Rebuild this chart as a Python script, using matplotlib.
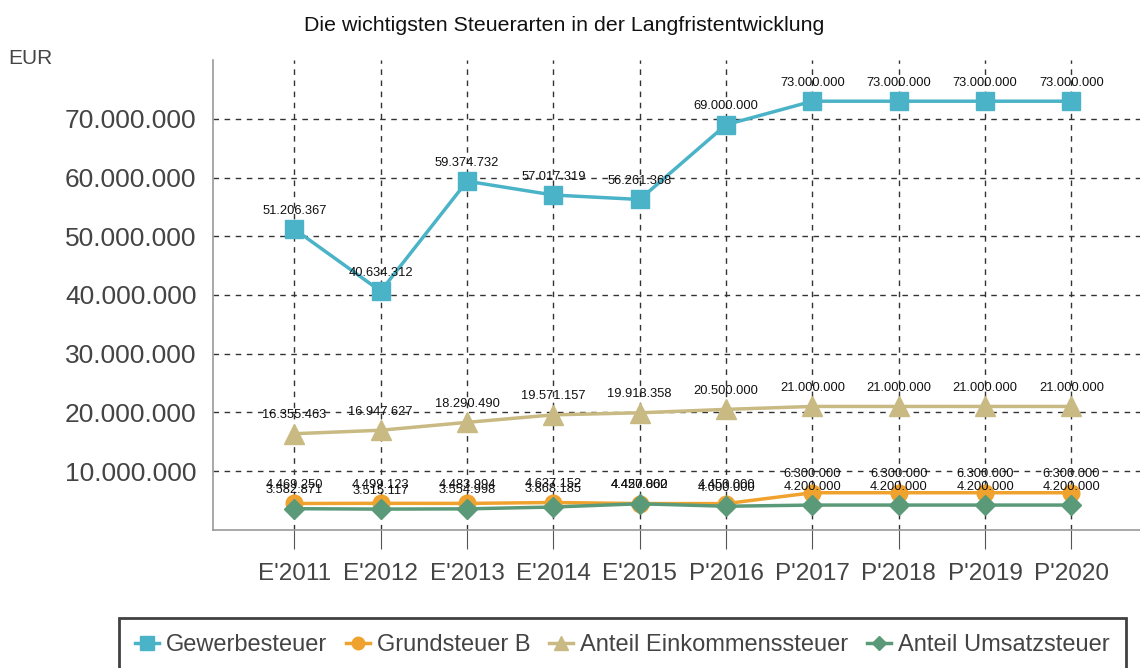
import matplotlib
matplotlib.use("Agg")
import matplotlib.pyplot as plt
from matplotlib.ticker import FixedLocator, FuncFormatter

plt.rcParams['font.family'] = ['Liberation Sans Narrow', 'Liberation Sans', 'DejaVu Sans']

categories = ["E'2011", "E'2012", "E'2013", "E'2014", "E'2015",
              "P'2016", "P'2017", "P'2018", "P'2019", "P'2020"]
gewerbesteuer = [51206367, 40634312, 59374732, 57017319, 56261368,
                 69000000, 73000000, 73000000, 73000000, 73000000]
grundsteuer_b = [4469250, 4499123, 4483994, 4637152, 4457000,
                 4450000, 6300000, 6300000, 6300000, 6300000]
einkommensteuer = [16355463, 16947627, 18290490, 19571157, 19918358,
                   20500000, 21000000, 21000000, 21000000, 21000000]
umsatzsteuer = [3582871, 3515117, 3554998, 3868185, 4420862,
                4000000, 4200000, 4200000, 4200000, 4200000]
y_ticks = [10000000, 20000000, 30000000, 40000000, 50000000, 60000000, 70000000]

series = [
    ("Gewerbesteuer", gewerbesteuer, "#4bb3c8", "s", 13),
    ("Grundsteuer B", grundsteuer_b, "#f0a22e", "o", 12),
    ("Anteil Einkommenssteuer", einkommensteuer, "#c9b982", "^", 14),
    ("Anteil Umsatzsteuer", umsatzsteuer, "#5a9a78", "D", 10),
]

def de(v):
    return f"{int(round(v)):,}".replace(",", ".")

fig = plt.figure(figsize=(11.4, 6.68), dpi=100)
ax = fig.add_axes([0.187, 0.207, 0.818, 0.703])
x = list(range(len(categories)))

for name, vals, col, mk, ms in series:
    ax.plot(x, vals, color=col, lw=2.5, marker=mk, ms=ms, label=name, zorder=3)
    for xi, v in zip(x, vals):
        ax.annotate(de(v), (xi, v), xytext=(0, 9), textcoords="offset points",
                    ha="center", va="bottom", fontsize=9.3, color="#111111", zorder=4)

ax.set_xlim(-0.94, 9.86)
ax.set_ylim(0, 80000000)
ax.yaxis.set_major_locator(FixedLocator(y_ticks))
ax.yaxis.set_major_formatter(FuncFormatter(lambda v, p: de(v)))
ax.set_xticks(x)
ax.set_xticklabels(categories)
ax.grid(True, ls=(0, (4, 4)), color="#333333", lw=1)
ax.set_axisbelow(True)
for s in ["top", "right"]:
    ax.spines[s].set_visible(False)
for s in ["left", "bottom"]:
    ax.spines[s].set_color("#999999")
    ax.spines[s].set_linewidth(1.2)
ax.tick_params(axis="y", labelsize=19, labelcolor="#444444", length=0, pad=12)
ax.tick_params(axis="x", labelsize=17.5, labelcolor="#444444", length=14,
               color="#555555", pad=10, direction="out")

fig.text(0.495, 0.962, "Die wichtigsten Steuerarten in der Langfristentwicklung",
         ha="center", va="center", fontsize=15.4, color="#111111")
fig.text(0.007, 0.912, "EUR", ha="left", va="center", fontsize=15, color="#444444")

leg = fig.legend(loc="lower center", bbox_to_anchor=(0.546, -0.025), ncol=4,
                 fontsize=17, frameon=True, fancybox=False, edgecolor="#111111",
                 handlelength=1.0, handletextpad=0.3, columnspacing=0.8,
                 borderpad=0.7, markerscale=0.75)
leg.get_frame().set_linewidth(2)
for t in leg.get_texts():
    t.set_color("#444444")

fig.savefig("out.png", dpi=100)
